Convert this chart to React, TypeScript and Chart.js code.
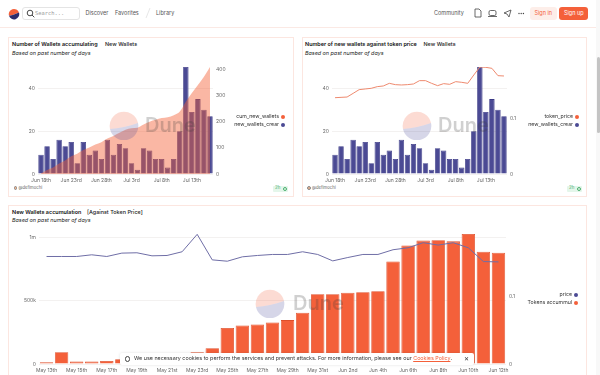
import React, { useEffect, useRef } from "react";
import { Chart, registerables } from "chart.js";
Chart.register(...registerables);

const juneDays = ["Jun 18th","Jun 19th","Jun 20th","Jun 21st","Jun 22nd","Jun 23rd","Jun 24th","Jun 25th","Jun 26th","Jun 27th","Jun 28th","Jun 29th","Jun 30th","Jul 1st","Jul 2nd","Jul 3rd","Jul 4th","Jul 5th","Jul 6th","Jul 7th","Jul 8th","Jul 9th","Jul 10th","Jul 11th","Jul 12th","Jul 13th","Jul 14th","Jul 15th","Jul 16th"];
const newWallets = [9,13,7,16,13,15,5,15,9,11,7,16,9,14,12,5,2,12,11,7,7,3,7,20,50,29,35,30,27];
const cumNewWallets = [2,15,25,40,52,68,78,92,102,113,122,136,146,158,170,176,178,190,201,208,215,218,226,240,278,311,342,374,411];
const tokenPrice = [.1375,.1381,.1387,.1453,.152,.1532,.1544,.1574,.1586,.1634,.161,.1604,.161,.1622,.1682,.1682,.1634,.1592,.1628,.1616,.1664,.1652,.1634,.1784,.1928,.1922,.1904,.1772,.1766];
const mayDays = ["May 13th","May 14th","May 15th","May 16th","May 17th","May 18th","May 19th","May 20th","May 21st","May 22nd","May 23rd","May 24th","May 25th","May 26th","May 27th","May 28th","May 29th","May 30th","May 31st","Jun 1st","Jun 2nd","Jun 3rd","Jun 4th","Jun 5th","Jun 6th","Jun 7th","Jun 8th","Jun 9th","Jun 10th","Jun 11th","Jun 12th"];
const tokensAccumulated = [13000,93000,19000,19000,24000,37000,20000,15000,10000,25000,92000,125000,285000,305000,312000,328000,347000,405000,552000,552000,563000,568000,576000,810000,938000,976000,978000,970000,1028000,888000,880000];
const price = [.1592,.1592,.1592,.1617,.1592,.1642,.1647,.1602,.1607,.1662,.192,.1542,.1522,.1587,.1607,.1622,.1622,.1662,.1622,.1527,.1577,.1622,.1622,.1692,.1721,.1796,.1761,.1796,.1721,.1517,.1512];

const NAVY = "#4b4a94";
const NAVY_EDGE = "#3a3985";
const ORANGE = "#f4603a";
const FONT = "Inter, 'Noto Sans', sans-serif";
const TICK = { size: 5, family: FONT };

function yAxis(position: string, width: number, max: number, ticks: number[], fmt: (v: number) => string, grid: boolean) {
  return {
    position, min: 0, max,
    afterFit: (s: any) => { s.width = width; },
    afterBuildTicks: (s: any) => { s.ticks = ticks.map((value) => ({ value })); },
    border: { display: false },
    grid: { display: grid, drawTicks: false, color: "#f3f1f0", lineWidth: 1 },
    ticks: { padding: 3, color: "#666", font: TICK, callback: (v: any) => fmt(Number(v)) },
  };
}

function xAxis(labels: string[], every: number) {
  return {
    offset: true,
    afterFit: (s: any) => { s.height = 11; },
    border: { display: false },
    grid: { display: false, drawTicks: false },
    ticks: {
      autoSkip: false, maxRotation: 0, minRotation: 0, padding: 3, color: "#666", font: TICK,
      callback: (_: any, i: number) => (i % every === 0 ? labels[i] : ""),
    },
  };
}

function ChartCanvas({ left, top, width, height, config }: any) {
  const ref = useRef<HTMLCanvasElement>(null);
  useEffect(() => {
    const chart = new Chart(ref.current as HTMLCanvasElement, config);
    return () => chart.destroy();
  }, []);
  return <canvas ref={ref} width={width} height={height} style={{ position: "absolute", left, top, width, height }} />;
}

const base = (padTop: number, padRight: number) => ({
  responsive: false,
  animation: false,
  events: [],
  layout: { padding: { top: padTop, right: padRight, left: 0, bottom: 0 } },
  plugins: { legend: { display: false }, tooltip: { enabled: false } },
});

const config1 = {
  type: "bar",
  data: {
    labels: juneDays,
    datasets: [
      { type: "line", label: "cum_new_wallets", data: cumNewWallets, yAxisID: "y1", order: 0, fill: "origin", backgroundColor: "rgba(244,96,54,0.45)", borderWidth: 0, pointRadius: 0, cubicInterpolationMode: "monotone" },
      { type: "bar", label: "new_wallets_crear", data: newWallets, yAxisID: "y", order: 1, backgroundColor: NAVY, borderColor: NAVY_EDGE, borderWidth: 0.8, categoryPercentage: 1, barPercentage: 0.9 },
    ],
  },
  options: {
    ...base(7, 60),
    scales: {
      x: xAxis(juneDays, 5),
      y: yAxis("left", 30, 50, [0, 20, 40], String, true),
      y1: yAxis("right", 20, 411, [0, 100, 200, 300, 400], String, false),
    },
  },
};

const config2 = {
  type: "bar",
  data: {
    labels: juneDays,
    datasets: [
      { type: "line", label: "token_price", data: tokenPrice, yAxisID: "y1", order: 0, borderColor: "#ee8a6f", borderWidth: 1, pointRadius: 0, tension: 0 },
      { type: "bar", label: "new_wallets_crear", data: newWallets, yAxisID: "y", order: 1, backgroundColor: NAVY, borderColor: NAVY_EDGE, borderWidth: 0.8, categoryPercentage: 1, barPercentage: 0.9 },
    ],
  },
  options: {
    ...base(7, 60),
    scales: {
      x: xAxis(juneDays, 5),
      y: yAxis("left", 30, 50, [0, 20, 40], String, true),
      y1: yAxis("right", 20, 0.1928, [0, 0.1], String, false),
    },
  },
};

const config3 = {
  type: "bar",
  data: {
    labels: mayDays,
    datasets: [
      { type: "line", label: "price", data: price, yAxisID: "y1", order: 0, borderColor: "#6f6ea6", borderWidth: 1, pointRadius: 0, tension: 0 },
      { type: "bar", label: "Tokens accummul", data: tokensAccumulated, yAxisID: "y", order: 1, backgroundColor: ORANGE, borderColor: "#dd4f2b", borderWidth: 0.8, categoryPercentage: 1, barPercentage: 0.89 },
    ],
  },
  options: {
    ...base(9, 61),
    scales: {
      x: xAxis(mayDays, 2),
      y: yAxis("left", 31, 1028000, [0, 500000, 1000000], (v) => (v === 0 ? "0" : v === 500000 ? "500k" : "1m"), true),
      y1: yAxis("right", 20, 0.1925, [0, 0.1], String, false),
    },
  },
};

const abs = (left: number, top: number, extra: any = {}) => ({ position: "absolute" as const, left, top, whiteSpace: "nowrap" as const, lineHeight: 1, ...extra });

function Txt({ x, y, size = 5.5, color = "#222", weight = 400, italic = false, right, children, spacing = 0, family = FONT }: any) {
  const st: any = abs(x, y - size / 2, { fontSize: size, color, fontWeight: weight, fontStyle: italic ? "italic" : "normal", letterSpacing: spacing, fontFamily: family });
  if (right !== undefined) { delete st.left; st.right = 600 - right; }
  return <div style={st}>{children}</div>;
}

function Card({ x, y, w, h }: any) {
  return <div style={{ position: "absolute", left: x, top: y, width: w, height: h, border: "1px solid #fce6e0", background: "#fff", boxSizing: "border-box" }} />;
}

function Watermark({ cx, cy, tx }: any) {
  return (
    <>
      <svg width={30} height={30} viewBox="-15 -15 30 30" style={{ position: "absolute", left: cx - 15, top: cy - 15 }}>
        <path d="M -14 4 Q 0 3 14 -2 A 14 14 0 1 0 -14 4 Z" fill="rgba(244,110,80,0.25)" />
        <path d="M -14 4 Q 0 3 14 -2 A 14 14 0 0 1 -14 4 Z" fill="rgba(70,70,150,0.22)" />
      </svg>
      <div style={abs(tx, cy - 10, { fontSize: 20, fontWeight: 600, color: "rgba(60,60,60,0.24)", fontFamily: FONT, lineHeight: "20px" })}>Dune</div>
    </>
  );
}

function Legend({ right, y, items }: any) {
  return items.map(([name, color]: [string, string], i: number) => (
    <React.Fragment key={name}>
      <Txt x={0} y={y + i * 8} right={right} size={5.2} color="#333">{name}</Txt>
      <div style={{ position: "absolute", left: right + 2.2, top: y + i * 8 - 1.8, width: 3.6, height: 3.6, borderRadius: 2, background: color }} />
    </React.Fragment>
  ));
}

function Foot({ ax, bx }: any) {
  return (
    <>
      <div style={{ position: "absolute", left: ax, top: 186, width: 3.5, height: 3.5, borderRadius: 2, border: "0.7px solid #888", background: "#f2b48f", boxSizing: "border-box" }} />
      <Txt x={ax + 5} y={188.5} size={4.2} color="#666">@defimochi</Txt>
      <div style={{ position: "absolute", left: bx, top: 185.5, width: 15, height: 6, background: "#e4f6ea", borderRadius: 1 }} />
      <Txt x={bx + 2} y={188.6} size={4.4} color="#4bb06f">2h</Txt>
      <div style={{ position: "absolute", left: bx + 9.5, top: 186.5, width: 4, height: 4, borderRadius: 2, border: "0.8px solid #4bb06f", boxSizing: "border-box" }} />
    </>
  );
}

export default function App() {
  return (
    <div style={{ position: "fixed", left: 0, top: 0, width: 600, height: 375, overflow: "hidden", background: "#fff", fontFamily: FONT, filter: "blur(0.3px)" }}>
      {/* header */}
      <div style={{ position: "absolute", left: 0, top: 26.5, width: 596, height: 1.2, background: "#fbe9e4" }} />
      <svg width={12} height={12} style={{ position: "absolute", left: 7.5, top: 7.5 }} viewBox="-6 -6 12 12">
        <path d="M -5 1.8 Q 0 1 5 -1.4 A 5.2 5.2 0 0 0 -5 1.8 Z" fill="#f4603a" />
        <path d="M -5 1.8 Q 0 1 5 -1.4 A 5.2 5.2 0 0 1 -5 1.8 Z" fill="#2c2c6c" />
      </svg>
      <div style={{ position: "absolute", left: 22, top: 6.5, width: 58, height: 13, border: "1px solid #e4e4e4", borderRadius: 3, boxSizing: "border-box" }} />
      <svg width={9} height={9} viewBox="0 0 9 9" style={{ position: "absolute", left: 25.5, top: 8.5 }}>
        <circle cx={4} cy={4} r={2.8} fill="none" stroke="#333" strokeWidth={0.9} />
        <line x1={6} y1={6} x2={8.3} y2={8.3} stroke="#333" strokeWidth={0.9} />
      </svg>
      <Txt x={35} y={13.5} size={5.4} color="#999" family="'DejaVu Sans Mono', monospace">Search...</Txt>
      <Txt x={85.5} y={13.5} color="#555">Discover</Txt>
      <Txt x={115} y={13.5} color="#555">Favorites</Txt>
      <svg width={6} height={12} style={{ position: "absolute", left: 145, top: 7 }}><line x1={5} y1={1} x2={1} y2={11} stroke="#ddd" strokeWidth={0.7} /></svg>
      <Txt x={156} y={13.5} color="#555">Library</Txt>
      <Txt x={434} y={13.5} color="#555">Community</Txt>
      <svg width={60} height={12} style={{ position: "absolute", left: 472, top: 7 }} fill="none" stroke="#444" strokeWidth={0.8}>
        <path d="M3 2 h4 l2 2 v6 h-6 z" />
        <rect x={17} y={3.5} width={7} height={5} rx={1.5} /><line x1={16} y1={9.5} x2={25} y2={9.5} />
        <path d="M32 6 l7 -3 l-2 7 l-2 -3 z" />
        <g fill="#444" stroke="none"><circle cx={47} cy={6.5} r={0.7} /><circle cx={49.2} cy={6.5} r={0.7} /><circle cx={51.4} cy={6.5} r={0.7} /></g>
      </svg>
      <div style={{ position: "absolute", left: 530, top: 7, width: 27, height: 13, background: "#fdeee9", borderRadius: 3 }} />
      <Txt x={534.5} y={13.5} color="#f4603a">Sign in</Txt>
      <div style={{ position: "absolute", left: 559, top: 7, width: 29, height: 13, background: "#f4603a", borderRadius: 3 }} />
      <Txt x={564} y={13.5} color="#fff">Sign up</Txt>
      {/* scrollbar */}
      <div style={{ position: "absolute", left: 596, top: 0, width: 4, height: 375, background: "#f8f8f8" }} />
      <div style={{ position: "absolute", left: 596.5, top: 57, width: 3, height: 76, background: "#c4c4c4", borderRadius: 2 }} />

      {/* cards */}
      <Card x={8} y={37} w={285.5} h={159.5} />
      <Card x={302} y={37} w={285} h={159.5} />
      <Card x={8} y={205} w={579} h={190} />

      {/* chart 1 */}
      <Txt x={12} y={45} weight={600} size={5.45} color="#111">Number of Wallets accumulating</Txt>
      <Txt x={105} y={45} weight={500} size={5.45} color="#222">New Wallets</Txt>
      <Txt x={12} y={54} italic size={5.4} color="#222">Based on past number of days</Txt>
      <ChartCanvas left={8} top={60} width={285} height={125} config={config1} />
      <Watermark cx={123.7} cy={125} tx={145} />
      <Legend right={279} y={117} items={[["cum_new_wallets", ORANGE], ["new_wallets_crear", NAVY]]} />
      <Foot ax={13.5} bx={273} />

      {/* chart 2 */}
      <Txt x={305} y={45} weight={600} size={5.45} color="#111">Number of new wallets against token price</Txt>
      <Txt x={423.5} y={45} weight={500} size={5.45} color="#222">New Wallets</Txt>
      <Txt x={305} y={54} italic size={5.4} color="#222">Based on past number of days</Txt>
      <ChartCanvas left={302} top={60} width={285} height={125} config={config2} />
      <Watermark cx={416.7} cy={125} tx={438} />
      <Legend right={573} y={117} items={[["token_price", ORANGE], ["new_wallets_crear", NAVY]]} />
      <Foot ax={307} bx={567} />

      {/* chart 3 */}
      <Txt x={12} y={212.5} weight={600} size={5.45} color="#111">New Wallets accumulation</Txt>
      <Txt x={87} y={212.5} weight={500} size={5.45} color="#222">[Against Token Price]</Txt>
      <Txt x={12} y={221} italic size={5.4} color="#222">Based on past number of days</Txt>
      <ChartCanvas left={8} top={225} width={579} height={150} config={config3} />
      <Watermark cx={270} cy={303} tx={293} />
      <Legend right={572} y={295} items={[["price", NAVY], ["Tokens accummul", ORANGE]]} />

      {/* cookie banner */}
      <div style={{ position: "absolute", left: 120, top: 353, width: 354, height: 12, background: "#fff", borderRadius: 2, boxShadow: "0 0 3px rgba(0,0,0,0.12)" }} />
      <div style={{ position: "absolute", left: 124.5, top: 356, width: 5.5, height: 5.5, borderRadius: 3, border: "0.7px solid #444", boxSizing: "border-box" }} />
      <Txt x={134} y={359} size={5.4} color="#333">We use necessary cookies to perform the services and prevent attacks. For more information, please see our <span style={{ color: ORANGE, textDecoration: "underline" }}>Cookies Policy</span>.</Txt>
      <Txt x={464} y={359} size={6} color="#333">✕</Txt>
    </div>
  );
}
